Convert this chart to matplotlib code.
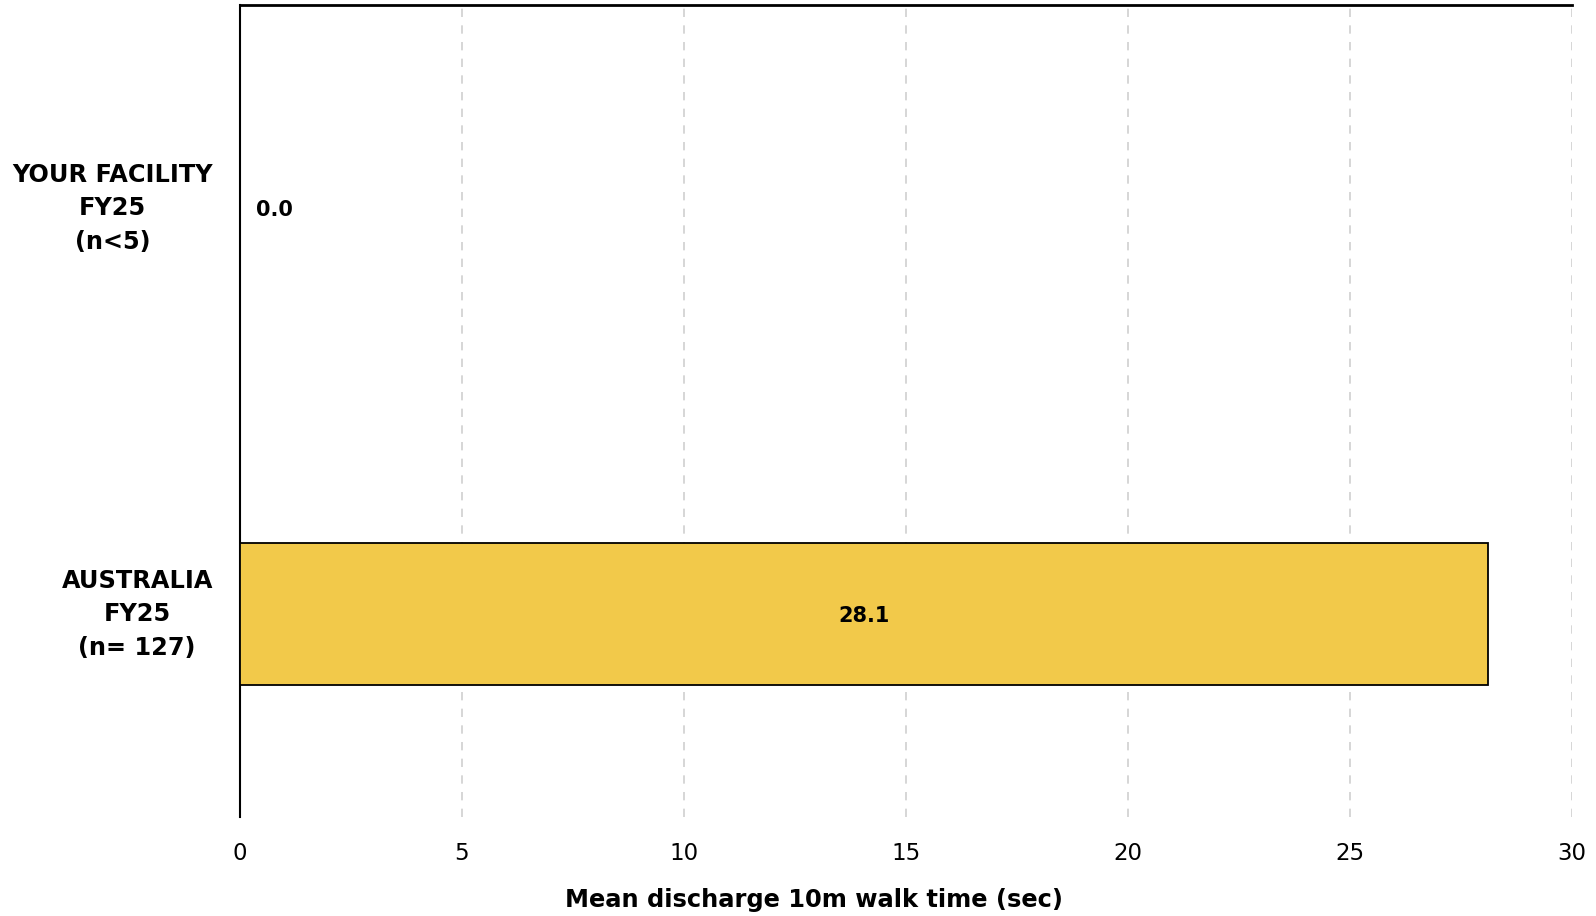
import matplotlib.pyplot as plt
from matplotlib.transforms import ScaledTranslation

categories = ["YOUR FACILITY\nFY25\n(n<5)", "AUSTRALIA\nFY25\n(n= 127)"]
values = [0.0, 28.1]
xticks = [0, 5, 10, 15, 20, 25, 30]

plt.rcParams['font.family'] = ['DejaVu Sans']

fig = plt.figure(figsize=(15.96, 9.16), dpi=100)
ax = fig.add_axes([240 / 1596, 1 - 817 / 916, (1572 - 240) / 1596, (817 - 5) / 916])

pos = list(range(len(categories)))
ax.barh(pos, values, height=0.35, color="#F2C94A", edgecolor="black", linewidth=1.3, zorder=3)

for p, v in zip(pos, values):
    if v > 0:
        ax.text(v / 2, p + 0.005, f"{v:.1f}", ha="center", va="center", fontsize=15, fontweight="bold", zorder=4)
    else:
        ax.text(0.37, p + 0.005, f"{v:.1f}", ha="left", va="center", fontsize=15, fontweight="semibold", zorder=4)

ax.set_ylim(1.5, -0.5)
ax.set_xlim(0, 30)
ax.set_yticks(pos)
ax.set_yticklabels([])
label_tr = ax.get_yaxis_transform() + ScaledTranslation(-27 / 100, 0, fig.dpi_scale_trans)
for p, c in zip(pos, categories):
    ax.text(0, p, c, transform=label_tr, ha="right", va="center", multialignment="center",
            fontsize=17.3, fontweight="bold", linespacing=1.5)

ax.set_xticks(xticks)
ax.set_xticklabels([str(t) for t in xticks], fontsize=16.5)
ax.tick_params(axis="both", length=0)
ax.tick_params(axis="x", pad=18)

ax.grid(axis="x", color="#d0d0d0", linestyle=(0, (5, 5)), linewidth=1.2, zorder=0)
ax.spines["right"].set_visible(False)
ax.spines["bottom"].set_visible(False)
ax.spines["left"].set_linewidth(1.5)
ax.spines["top"].set_linewidth(2)

ax.set_xlabel("Mean discharge 10m walk time (sec)", fontsize=17.4, fontweight="bold")
ax.xaxis.set_label_coords((814 - 240) / (1572 - 240), -0.087)

fig.savefig("out.png", dpi=100)
